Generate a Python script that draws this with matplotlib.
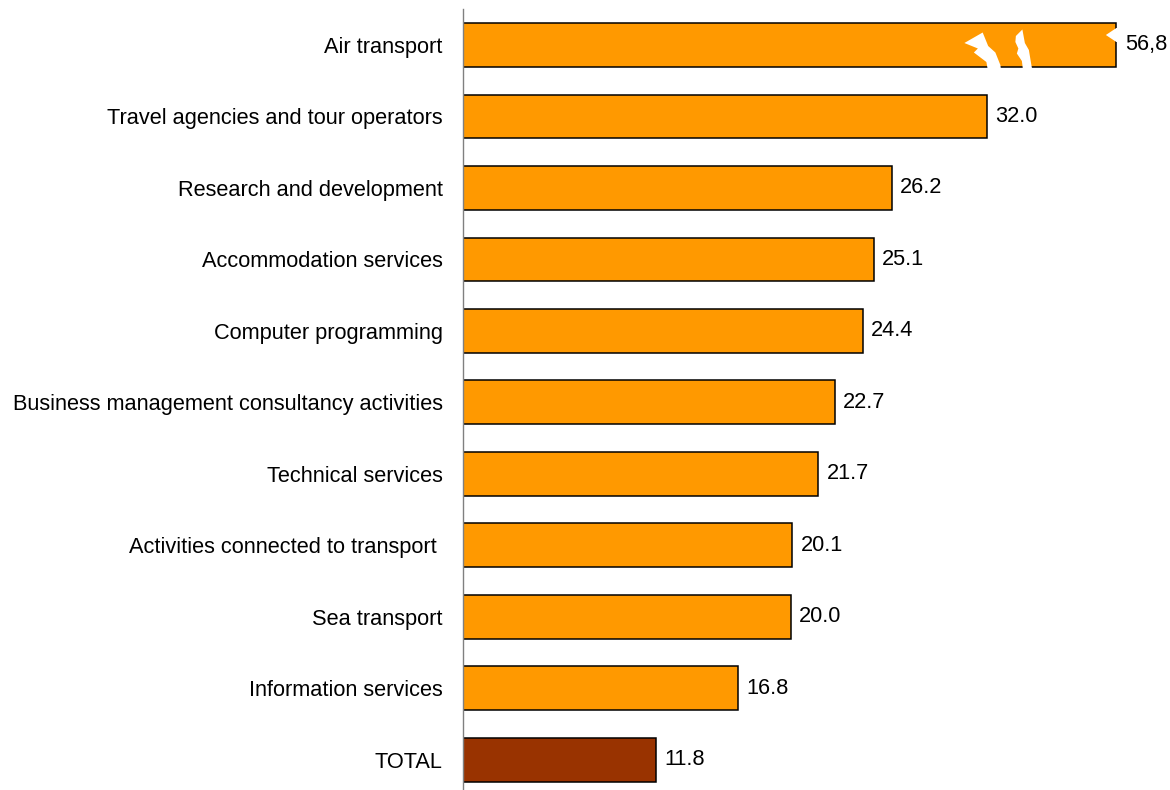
import matplotlib
matplotlib.use("Agg")
import numpy as np
import matplotlib.pyplot as plt
from matplotlib.patches import Polygon
from matplotlib.transforms import IdentityTransform

plt.rcParams['font.family'] = ['Liberation Sans', 'DejaVu Sans']

categories = [
    "Air transport",
    "Travel agencies and tour operators",
    "Research and development",
    "Accommodation services",
    "Computer programming",
    "Business management consultancy activities",
    "Technical services",
    "Activities connected to transport ",
    "Sea transport",
    "Information services",
    "TOTAL",
]
values = [56.8, 32.0, 26.2, 25.1, 24.4, 22.7, 21.7, 20.1, 20.0, 16.8, 11.8]
value_labels = ["56,8", "32.0", "26.2", "25.1", "24.4", "22.7", "21.7",
                "20.1", "20.0", "16.8", "11.8"]
colors = ["#FF9900"] * 10 + ["#993300"]

# Broken axis: values beyond BREAK are compressed by FACTOR
BREAK = 33.5
FACTOR = 0.2747


def fwd(x):
    x = np.asarray(x, dtype=float)
    return np.where(x <= BREAK, x, BREAK + (x - BREAK) * FACTOR)


def inv(y):
    y = np.asarray(y, dtype=float)
    return np.where(y <= BREAK, y, BREAK + (y - BREAK) / FACTOR)


FS = 15.7
W, H = 1170, 790
fig = plt.figure(figsize=(W / 100, H / 100), dpi=100)
ax_left = 463 / W
ax = fig.add_axes([ax_left, 0, 1 - ax_left, 1 - 9.25 / H])
ax.set_xscale('function', functions=(fwd, inv))

ypos = list(range(len(categories)))
ax.barh(ypos, values, height=0.615, color=colors, edgecolor="black",
        linewidth=1.1, zorder=2)

ax.set_xlim(0, float(inv((W - 463) / 16.375)))
ax.set_ylim(10.42, -0.5)

ax.set_yticks(ypos)
ax.set_yticklabels(categories, fontsize=FS)
ax.tick_params(axis='y', length=0, pad=14.5)
ax.set_xticks([])
for s in ("top", "right", "bottom"):
    ax.spines[s].set_visible(False)
ax.spines["left"].set_color("#808080")
ax.spines["left"].set_linewidth(1.0)

for y, v, lab in zip(ypos, values, value_labels):
    ax.annotate(lab, xy=(v, y), xytext=(6, 0), textcoords="offset points",
                va="center", ha="left", fontsize=FS, zorder=3)

# Break marks on the long bar, positioned in pixels relative to its end
fig.canvas.draw()
end_x, end_y = ax.transData.transform((values[0], ypos[0]))

bolts = [
    [(965, 43), (983.3, 32.5), (988.8, 46), (996, 52.5), (1001, 65),
     (1002, 73), (989, 73), (987, 62), (974.5, 52.5), (978.5, 48.5)],
    [(1016.5, 36), (1023, 29.5), (1025.5, 43), (1029.5, 50), (1032, 65),
     (1033.5, 73), (1024, 73), (1022.5, 61), (1017.5, 53.5), (1019, 48.5),
     (1016, 42)],
    [(1106.5, 35), (1117, 28), (1127, 28), (1127, 42), (1117, 42)],
]
for poly in bolts:
    pts = [(end_x + (px - 1117), end_y - (py - 45)) for px, py in poly]
    fig.patches.append(Polygon(pts, closed=True, facecolor="white",
                               edgecolor="none", transform=IdentityTransform(),
                               zorder=5, figure=fig))

fig.savefig("out.png", dpi=100)
